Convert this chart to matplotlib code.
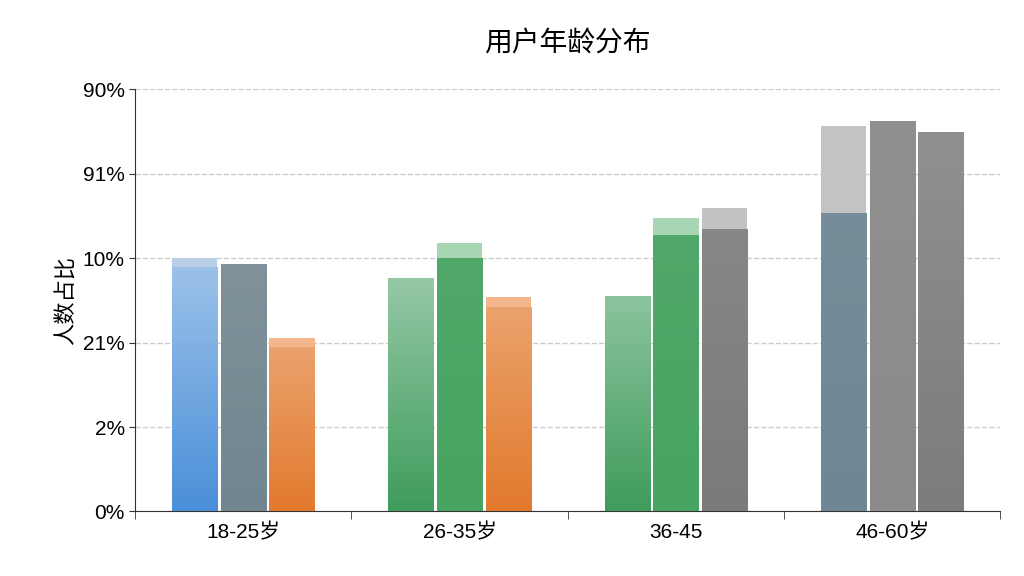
import numpy as np
import matplotlib.pyplot as plt
from matplotlib.colors import to_rgb

plt.rcParams['font.family'] = ['Liberation Sans', 'Noto Sans CJK SC', 'DejaVu Sans']

groups = ['18-25岁', '26-35岁', '36-45', '46-60岁']
ytick_labels = ['0%', '2%', '21%', '10%', '91%', '90%']
# height of darker main part and total height (in tick units), 3 bars per group
base = [[2.90, 2.93, 1.95],
        [2.77, 3.00, 2.42],
        [2.55, 3.28, 3.34],
        [3.54, 4.63, 4.50]]
total = [[3.00, 2.93, 2.06],
         [2.77, 3.18, 2.54],
         [2.55, 3.47, 3.59],
         [4.56, 4.63, 4.50]]
colors = [['#4a8fd8', '#71868f', '#e27a2e'],
          ['#3f9c5c', '#47a462', '#e27a2e'],
          ['#3f9c5c', '#47a462', '#7a7a7a'],
          ['#6f8795', '#8a8a8a', '#7c7c7c']]
cap_colors = [['#b9cfe8', '#71868f', '#f2b58c'],
              ['#a9d3b4', '#a8d6b4', '#f2b58c'],
              ['#a9d3b4', '#a8d6b4', '#c2c2c2'],
              ['#c3c3c3', '#8a8a8a', '#c0c0c0']]
lighten = [[0.45, 0.1, 0.3],
           [0.45, 0.05, 0.3],
           [0.4, 0.05, 0.1],
           [0.05, 0.05, 0.15]]

fig, ax = plt.subplots(figsize=(10.24, 5.76), dpi=100)
fig.subplots_adjust(left=0.132, right=0.977, top=0.845, bottom=0.112)

w = 0.21
offsets = [-0.225, 0, 0.225]


def grad_bar(x, y0, y1, c, lighten_top):
    c = np.array(to_rgb(c))
    light = c + (1 - c) * lighten_top
    n = 64
    t = np.linspace(0, 1, n)[:, None]
    img = (c[None, :] * (1 - t) + light[None, :] * t)[:, None, :]
    im = ax.imshow(img, extent=(x - w / 2, x + w / 2, y0, y1), origin='lower',
                   aspect='auto', zorder=3)
    rect = plt.Rectangle((x - w / 2, y0), w, y1 - y0, transform=ax.transData,
                         facecolor='none', edgecolor='none')
    ax.add_patch(rect)
    im.set_clip_path(rect)


for i in range(len(groups)):
    for j in range(3):
        x = i + offsets[j]
        grad_bar(x, 0, base[i][j], colors[i][j], lighten[i][j])
        if total[i][j] > base[i][j]:
            ax.bar(x, total[i][j] - base[i][j], w, bottom=base[i][j],
                   color=cap_colors[i][j], zorder=3)

ax.set_xlim(-0.5, 3.5)
ax.set_ylim(0, 5)
ax.set_yticks(range(6))
ax.set_yticklabels(ytick_labels, fontsize=15)
ax.set_xticks(range(4))
ax.set_xticklabels(groups, fontsize=15)
ax.set_xticks([-0.5, 0.5, 1.5, 2.5, 3.5], minor=True)
ax.tick_params(axis='x', which='major', length=0, pad=8)
ax.tick_params(axis='x', which='minor', length=6, color='#333333')
ax.tick_params(axis='y', length=4, color='#333333')
ax.grid(axis='y', linestyle='--', color='#cccccc', linewidth=1, zorder=0)
ax.set_axisbelow(True)
for s in ['top', 'right']:
    ax.spines[s].set_visible(False)
ax.spines['left'].set_color('#333333')
ax.spines['bottom'].set_color('#333333')
ax.set_ylabel('人数占比', fontsize=16)
ax.set_title('用户年龄分布', fontsize=20, pad=28)

fig.savefig('out.png')
